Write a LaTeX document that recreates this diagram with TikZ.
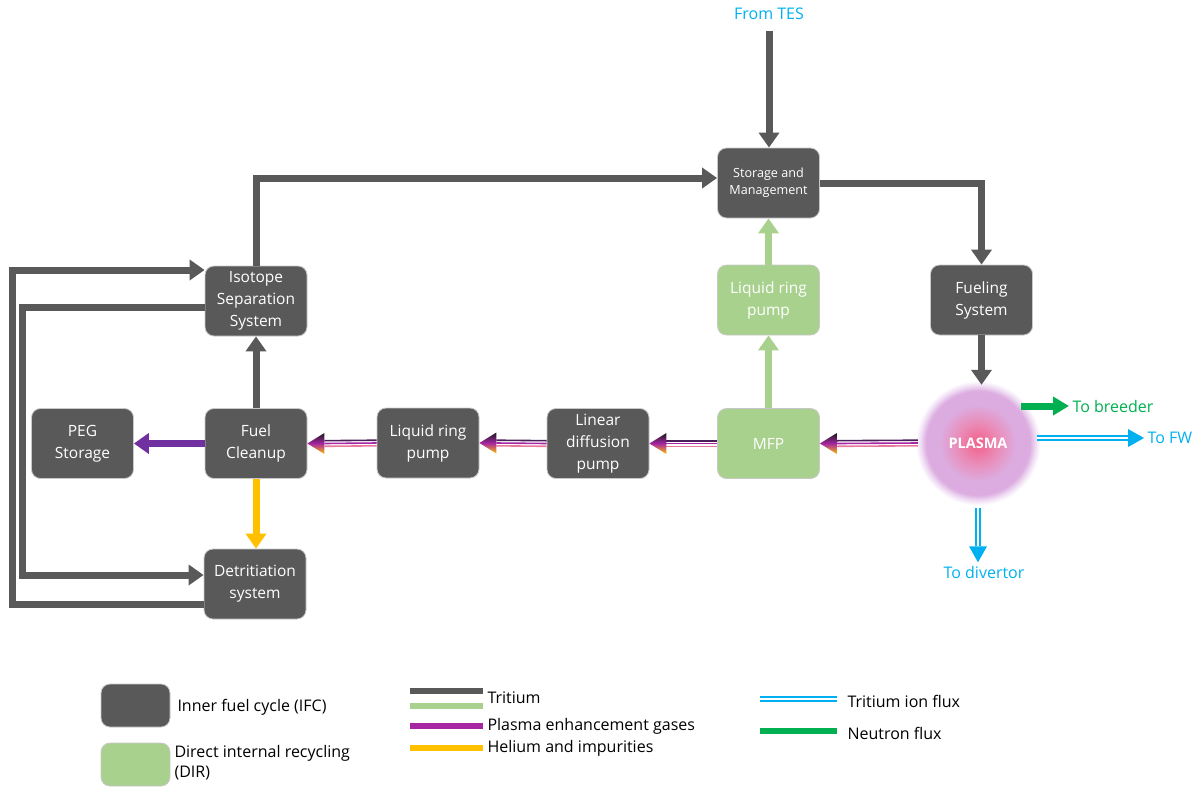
\documentclass[tikz,border=0pt]{standalone}
\usepackage{fontspec}
\setmainfont{Open Sans}
\usetikzlibrary{arrows.meta,calc}
\definecolor{boxgray}{HTML}{595959}
\definecolor{boxedge}{HTML}{C8C8C8}
\definecolor{dirgreen}{HTML}{A9D18E}
\definecolor{pegpurple}{HTML}{7030A0}
\definecolor{hegold}{HTML}{FFC000}
\definecolor{ionblue}{HTML}{00B0F0}
\definecolor{neutrongreen}{HTML}{00B050}
\definecolor{gasdark}{HTML}{4A1E5A}
\definecolor{gaspurple}{HTML}{A626A4}
\definecolor{gaspink}{HTML}{E9799A}
\definecolor{plasmacore}{RGB}{242,96,138}
\definecolor{plasmamid}{RGB}{234,140,184}
\definecolor{plasmaout}{RGB}{220,172,224}
\definecolor{plasmarim}{RGB}{240,222,244}
\pgfdeclareradialshading{plasmaglow}{\pgfpoint{0bp}{0bp}}{color(0bp)=(plasmacore); color(8bp)=(plasmamid); color(15bp)=(plasmaout); color(20.3bp)=(plasmaout); color(22.5bp)=(plasmarim); color(24.4bp)=(white); color(50bp)=(white)}
\newcommand{\gasflow}[2]{%
  \draw[gasline=gasdark] ([yshift=2.8pt]#1.west) -- ([xshift=17pt,yshift=2.8pt]#2.east);
  \draw[gasline=gaspurple] (#1.west) -- ([xshift=17pt]#2.east);
  \draw[gasline=gaspink] ([yshift=-2.8pt]#1.west) -- ([xshift=17pt,yshift=-2.8pt]#2.east);
  \shade[top color=black!90, bottom color=hegold, middle color=gaspurple] (#2.east) -- ([xshift=17pt,yshift=10.5pt]#2.east) -- ([xshift=17pt,yshift=-10.5pt]#2.east) -- cycle;}
\begin{document}
\begin{tikzpicture}[x=1pt, y=-1pt,
    box/.style={rectangle, rounded corners=9pt, fill=boxgray, draw=boxedge, line width=0.8pt, text=white, minimum width=102pt, minimum height=70pt, align=center, font=\fontsize{15.5}{22}\selectfont},
    dirbox/.style={box, fill=dirgreen},
    tflow/.style={draw=#1, line width=7pt, -{Triangle[length=15pt, width=20pt]}},
    gasline/.style={draw=#1, line width=1.6pt},
    ionline/.style={draw=ionblue, double=white, line width=1.4pt, double distance=2.4pt},
    fluxtext/.style={text=ionblue, font=\fontsize{16}{19}\selectfont},
    keytext/.style={font=\fontsize{16}{20}\selectfont, align=left, anchor=west},
    keybar/.style={draw=#1, line width=6pt}]
  \useasboundingbox (0,0) rectangle (1201,790);
  \node[fluxtext] (tes) at (769,14) {From TES};
  \node[box, font=\fontsize{12.6}{17}\selectfont] (sm) at (768.5,183) {Storage and\\Management};
  \node[box] (iss) at (256,301) {Isotope\\Separation\\System};
  \node[dirbox] (lrpg) at (768.5,300) {Liquid ring\\pump};
  \node[box] (fuel) at (981.5,300) {Fueling\\System};
  \node[box] (peg) at (82.5,443.5) {PEG\\Storage};
  \node[box] (fc) at (256,443.5) {Fuel\\Cleanup};
  \node[box] (lrp) at (428,443) {Liquid ring\\pump};
  \node[box] (ldp) at (598,443.5) {Linear\\diffusion\\pump};
  \node[dirbox] (mfp) at (768.5,443.5) {MFP};
  \node[circle, minimum size=128pt, shade, shading=plasmaglow, text=white, font=\fontsize{14.5}{17}\selectfont\bfseries] (plasma) at (978,443) {PLASMA};
  \coordinate (plasmaedge) at ([xshift=4pt]plasma.west);
  \node[box] (det) at (255,584) {Detritiation\\system};
  \node[text=neutrongreen, font=\fontsize{16}{19}\selectfont, anchor=west] (breeder) at (1069,406) {To breeder};
  \node[fluxtext, anchor=west] (fw) at (1144,438) {To FW};
  \node[fluxtext] (div) at (984,572) {To divertor};
  \draw[tflow=boxgray, shorten <=8pt] (tes.south) -- (tes.south |- sm.north);
  \draw[tflow=boxgray] (iss.north) |- ([yshift=5pt]sm.west);
  \draw[tflow=boxgray] (sm.east) -| (fuel.north);
  \draw[tflow=boxgray] (fuel.south) -- ([yshift=-6pt]fuel.south |- plasma.north);
  \draw[tflow=dirgreen] (lrpg.north) -- (sm.south);
  \draw[tflow=dirgreen] (mfp.north) -- (lrpg.south);
  \draw[tflow=boxgray] (fc.north) -- (iss.south);
  \draw[tflow=pegpurple] (fc.west) -- (peg.east);
  \draw[tflow=hegold] (fc.south) -- (fc.south |- det.north);
  \draw[tflow=boxgray] ([yshift=-20pt]det.west) -- (12,604) |- ([yshift=31pt]iss.west);
  \draw[tflow=boxgray] ([yshift=-6pt]iss.west) -- (22,307) |- ([yshift=9pt]det.west);
  \gasflow{plasmaedge}{mfp}
  \gasflow{mfp}{ldp}
  \gasflow{ldp}{lrp}
  \gasflow{lrp}{fc}
  \draw[tflow=neutrongreen, -{Triangle[length=16pt, width=18pt]}, shorten <=-6pt] (breeder.west -| plasma.40) -- (breeder.west);
  \draw[ionline, shorten >=15pt, shorten <=-5pt] (fw.west -| plasma.5) -- (fw.west);
  \fill[ionblue] (fw.west) -- ([xshift=-16pt,yshift=9pt]fw.west) -- ([xshift=-16pt,yshift=-9pt]fw.west) -- cycle;
  \draw[ionline, shorten <=1pt, shorten >=16pt] (plasma.south) -- (plasma.south |- div.north);
  \fill[ionblue] (plasma.south |- div.north) -- ([xshift=-9pt,yshift=16pt]plasma.south |- div.north) -- ([xshift=9pt,yshift=16pt]plasma.south |- div.north) -- cycle;
  \node[box, minimum width=69pt, minimum height=43pt] (ifckey) at (135.5,705.5) {};
  \node[dirbox, minimum width=69pt, minimum height=43pt] (dirkey) at (135.5,764.5) {};
  \node[keytext] (ifctext) at (174,707) {Inner fuel cycle (IFC)};
  \node[keytext] (dirtext) at (171,763) {Direct internal recycling\\(DIR)};
  \draw[keybar=boxgray] (410,691) -- (483,691);
  \draw[keybar=dirgreen] (410,706) -- (483,706);
  \node[keytext] (tritext) at (484,698) {Tritium};
  \draw[keybar=gaspurple] (410,726) -- (483,726);
  \node[keytext] (pegtext) at (484,726) {Plasma enhancement gases};
  \draw[keybar=hegold] (410,748) -- (483,748);
  \node[keytext] (hetext) at (484,748) {Helium and impurities};
  \draw[ionline] (760,699) -- (837,699);
  \node[keytext] (iontext) at (844,701) {Tritium ion flux};
  \draw[keybar=neutrongreen] (760,731) -- (837,731);
  \node[keytext] (neutext) at (844,733) {Neutron flux};
\end{tikzpicture}
\end{document}
